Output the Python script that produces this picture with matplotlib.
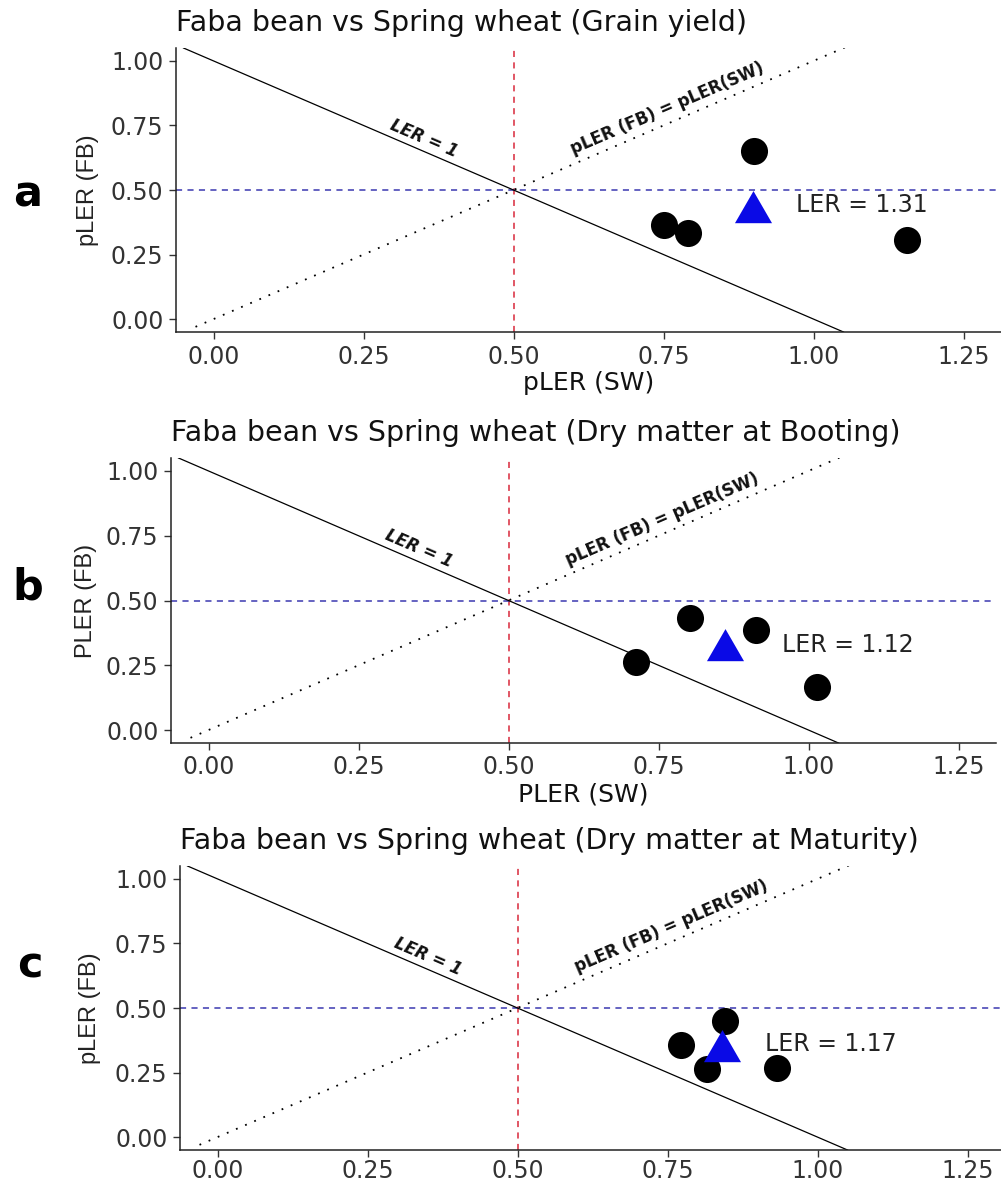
import matplotlib
matplotlib.use("Agg")
import matplotlib.pyplot as plt
import numpy as np

plt.rcParams['font.family'] = ['DejaVu Sans']

# ---- data ----
titles = ["Faba bean vs Spring wheat (Grain yield)",
          "Faba bean vs Spring wheat (Dry matter at Booting)",
          "Faba bean vs Spring wheat (Dry matter at Maturity)"]
panel_letters = ["a", "b", "c"]
xlabels = ["pLER (SW)", "PLER (SW)", None]
ylabels = ["pLER (FB)", "PLER (FB)", "pLER (FB)"]

sw_a = [0.75, 0.79, 0.90, 1.155]
fb_a = [0.364, 0.334, 0.651, 0.306]
sw_b = [0.713, 0.803, 0.913, 1.015]
fb_b = [0.263, 0.432, 0.386, 0.166]
sw_c = [0.772, 0.815, 0.845, 0.932]
fb_c = [0.355, 0.263, 0.448, 0.266]

mean_sw = [0.899, 0.861, 0.841]
mean_fb = [0.414, 0.309, 0.332]
ler_labels = ["LER = 1.31", "LER = 1.12", "LER = 1.17"]
ler_label_x = [0.97, 0.955, 0.912]
ler_label_y = [0.44, 0.328, 0.36]

ticks = [0.00, 0.25, 0.50, 0.75, 1.00, 1.25]
yticks = [0.00, 0.25, 0.50, 0.75, 1.00]
tick_labels = ["0.00", "0.25", "0.50", "0.75", "1.00", "1.25"]

sw_all = [sw_a, sw_b, sw_c]
fb_all = [fb_a, fb_b, fb_c]

W, H = 1001, 1187
fig = plt.figure(figsize=(W / 100, H / 100), dpi=100)

# axes boxes in pixels: left, top, width, height
boxes = [(176, 48, 825, 284), (171, 458, 825, 285), (180, 866, 821, 284)]
letter_pos = [(28, 195), (28, 588), (30, 966)]
ylabel_x = [88, 86, 90]
xpads = [4, 4, 1.5]

tri = [(-1, -0.577), (1, -0.577), (0, 1.155)]

for i in range(3):
    l, t, w, h = boxes[i]
    ax = fig.add_axes([l / W, 1 - (t + h) / H, w / W, h / H])
    ax.set_xlim(-0.0625, -0.0625 + w / 600)
    ax.set_ylim(-0.05, 1.05)
    for s in ["top", "right"]:
        ax.spines[s].set_visible(False)
    for s in ["left", "bottom"]:
        ax.spines[s].set_linewidth(1.1)
        ax.spines[s].set_color("#222222")

    lx = np.array([-0.05, 1.05])
    ax.plot(lx, 1 - lx, color="black", lw=0.9, zorder=2)
    dx = np.array([-0.03, 1.055])
    ax.plot(dx, dx, color="black", lw=1.3, ls=(0, (1, 4.5)), zorder=2)
    ax.axvline(0.5, color="#d8283a", lw=1.1, ls=(0, (4, 3.5)), zorder=1)
    ax.axhline(0.5, color="#3a38b0", lw=1.1, ls=(0, (4, 3.5)), zorder=1)

    ax.scatter(sw_all[i], fb_all[i], s=380, color="black", zorder=3, linewidths=0)
    ax.scatter([mean_sw[i]], [mean_fb[i]], s=950, marker=tri, color="#0a0ae6",
               zorder=4, linewidths=0)
    ax.text(ler_label_x[i], ler_label_y[i], ler_labels[i], fontsize=17,
            color="#222222", ha="left", va="center")

    ax.text(0.35, 0.70, "LER = 1", fontsize=12, fontweight="bold", fontstyle="italic",
            rotation=-45, transform_rotates_text=True, rotation_mode="anchor",
            ha="center", va="center", color="#111111")
    ax.text(0.757, 0.815, "pLER (FB) = pLER(SW)", fontsize=12, fontweight="bold",
            rotation=45, transform_rotates_text=True, rotation_mode="anchor",
            ha="center", va="center", color="#111111")

    ax.set_xticks(ticks)
    ax.set_xticklabels(tick_labels)
    ax.set_yticks(yticks)
    ax.set_yticklabels(tick_labels[:5])
    ax.tick_params(axis="both", length=5, width=1.0, color="#333333",
                   labelsize=17, labelcolor="#333333", pad=4)
    ax.tick_params(axis="x", pad=xpads[i])

    ax.set_title(titles[i], loc="left", fontsize=20.5, color="#111111", pad=12)
    if xlabels[i]:
        ax.set_xlabel(xlabels[i], fontsize=18, color="#111111", labelpad=2)
    fig.text(ylabel_x[i] / W, 1 - (t + h * 0.5) / H, ylabels[i], rotation=90,
             fontsize=17, color="#222222", ha="center", va="center",
             family=["Liberation Sans", "DejaVu Sans"])
    fig.text(letter_pos[i][0] / W, 1 - letter_pos[i][1] / H, panel_letters[i],
             fontsize=31, fontweight="bold", ha="center", va="center")

fig.savefig("out.png", dpi=100)
